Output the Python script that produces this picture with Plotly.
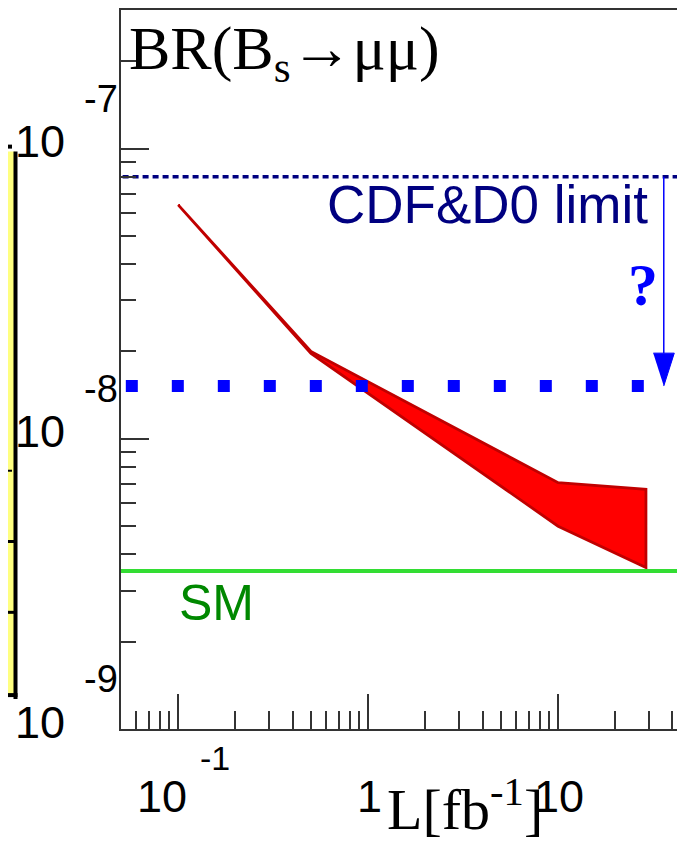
import numpy as np
import plotly.graph_objects as go

# ---------------- data ----------------
lumi = [0.1, 0.5, 10, 29]                      # fb^-1
br_upper = [6.4e-8, 2.0e-8, 7.06e-9, 6.7e-9]
br_lower = [6.4e-8, 1.97e-8, 5.0e-9, 3.6e-9]

cdf_d0_limit = 8.0e-8
expected_limit = 1.52e-8
sm_br = 3.5e-9
arrow_lumi = 36
expected_line_lumi = [0.053, 29]
full_lumi = [0.04, 100]

x_tick_vals = [0.1, 1, 10]
x_tick_base = ["10", "1", "10"]
x_tick_exp = ["-1", "", ""]
y_tick_vals = [1e-7, 1e-8, 1e-9]
y_tick_base = ["10", "10", "10"]
y_tick_exp = ["-7", "-8", "-9"]

# ---------------- layout geometry ----------------
OFF = 8                      # page body margin of the html page
W, H = 685 - OFF, 846 - OFF
ML, MR, MT, MB = 121 - OFF, 0, 0, 117
PW, PH = W - ML - MR, H - MT - MB
x_range = [np.log10(0.05), 1.668]
y_range = [-9.0, -9.0 + PH / 291.0]


def pxx(px):
    """page pixel x -> paper x"""
    return (px - OFF - ML) / PW


def pxy(py):
    """page pixel y -> paper y"""
    return (H - MB - (py - OFF)) / PH


SANS = "Liberation Sans, Arial, sans-serif"
SERIF = "Liberation Serif, Times New Roman, serif"

fig = go.Figure()

# red band
fig.add_trace(go.Scatter(
    x=lumi + lumi[::-1], y=br_upper + br_lower[::-1],
    mode="lines", fill="toself", fillcolor="#ff0000",
    line=dict(color="#c00000", width=2.8), hoverinfo="skip"))

# CDF&D0 limit (navy dotted)
fig.add_trace(go.Scatter(
    x=full_lumi, y=[cdf_d0_limit] * 2, mode="lines",
    line=dict(color="#000080", width=3.5, dash="6px,4px"), hoverinfo="skip"))

# SM line
fig.add_trace(go.Scatter(
    x=full_lumi, y=[sm_br] * 2, mode="lines",
    line=dict(color="#33dd33", width=4), hoverinfo="skip"))

# expected line (big blue squares)
fig.add_trace(go.Scatter(
    x=expected_line_lumi, y=[expected_limit] * 2, mode="lines",
    line=dict(color="#0000ff", width=12, dash="12px,34px"), hoverinfo="skip"))

# arrow
head_len_dec = 33 / 291.0     # decades in y
head_half_dec = 10.5 / 190.0  # decades in x
head_base = expected_limit * 10 ** head_len_dec
fig.add_trace(go.Scatter(
    x=[arrow_lumi, arrow_lumi], y=[cdf_d0_limit, head_base], mode="lines",
    line=dict(color="#0000ff", width=1.5), hoverinfo="skip"))
fig.add_trace(go.Scatter(
    x=[arrow_lumi * 10 ** -head_half_dec, arrow_lumi * 10 ** head_half_dec, arrow_lumi],
    y=[head_base, head_base, expected_limit],
    mode="lines", fill="toself", fillcolor="#0000ff",
    line=dict(color="#0000ff", width=1), hoverinfo="skip"))

annotations = []
# y tick labels (ROOT-style, detached exponent)
for v, b, e in zip(y_tick_vals, y_tick_base, y_tick_exp):
    annotations.append(dict(x=0, xref="paper", y=np.log10(v), yref="y",
                            text=b, showarrow=False, xanchor="right", yanchor="middle",
                            xshift=-54, yshift=7,
                            font=dict(family=SANS, size=45, color="black")))
    annotations.append(dict(x=0, xref="paper", y=np.log10(v), yref="y",
                            text=e, showarrow=False, xanchor="center", yanchor="middle",
                            xshift=-20, yshift=50,
                            font=dict(family=SANS, size=38, color="black")))
# x tick labels
for v, b, e in zip(x_tick_vals, x_tick_base, x_tick_exp):
    annotations.append(dict(x=np.log10(v), xref="x", y=0, yref="paper",
                            text=b, showarrow=False, xanchor="center", yanchor="middle",
                            xshift=-16 if e else 1, yshift=-67,
                            font=dict(family=SANS, size=45, color="black")))
    if e:
        annotations.append(dict(x=np.log10(v), xref="x", y=0, yref="paper",
                                text=e, showarrow=False, xanchor="center", yanchor="middle",
                                xshift=37, yshift=-29,
                                font=dict(family=SANS, size=34, color="black")))

# axis title
annotations.append(dict(x=pxx(385), xref="paper", y=pxy(806), yref="paper",
                        text="L[fb<sup>-1</sup>]", showarrow=False,
                        xanchor="left", yanchor="middle",
                        font=dict(family=SERIF, size=58, color="black")))
# title
annotations.append(dict(x=pxx(127), xref="paper", y=pxy(51), yref="paper",
                        text="BR(B<sub>s</sub>\u2192\u03bc\u03bc)", showarrow=False,
                        xanchor="left", yanchor="middle",
                        font=dict(family=SERIF, size=62, color="black")))
# CDF&D0 limit label
annotations.append(dict(x=pxx(650), xref="paper", y=pxy(203), yref="paper",
                        text="CDF&amp;D0 limit", showarrow=False,
                        xanchor="right", yanchor="middle",
                        font=dict(family=SANS, size=53, color="#000080")))
# question mark
annotations.append(dict(x=pxx(643), xref="paper", y=pxy(284), yref="paper",
                        text="<b>?</b>", showarrow=False,
                        xanchor="center", yanchor="middle",
                        font=dict(family=SERIF, size=60, color="#0000ff")))
# SM label
annotations.append(dict(x=pxx(177), xref="paper", y=pxy(603), yref="paper",
                        text="SM", showarrow=False,
                        xanchor="left", yanchor="middle",
                        font=dict(family=SANS, size=50, color="#008800")))

# left yellow panel fragment (from neighbouring figure)
shapes = [
    dict(type="rect", xref="paper", yref="paper", x0=pxx(-5), x1=pxx(15),
         y0=pxy(697), y1=pxy(150), fillcolor="#ffff80", line=dict(width=0), layer="above"),
    dict(type="line", xref="paper", yref="paper", x0=pxx(15.5), x1=pxx(15.5),
         y0=pxy(699), y1=pxy(150), line=dict(color="black", width=4)),
    dict(type="line", xref="paper", yref="paper", x0=pxx(-5), x1=pxx(17.5),
         y0=pxy(695), y1=pxy(695), line=dict(color="black", width=4)),
    dict(type="line", xref="paper", yref="paper", x0=pxx(-5), x1=pxx(12),
         y0=pxy(145), y1=pxy(145), line=dict(color="black", width=4)),
    dict(type="line", xref="paper", yref="paper", x0=pxx(-5), x1=pxx(12),
         y0=pxy(470), y1=pxy(470), line=dict(color="black", width=2)),
    dict(type="line", xref="paper", yref="paper", x0=pxx(-5), x1=pxx(15),
         y0=pxy(541), y1=pxy(541), line=dict(color="black", width=3)),
    dict(type="line", xref="paper", yref="paper", x0=pxx(-5), x1=pxx(15),
         y0=pxy(612), y1=pxy(612), line=dict(color="black", width=3)),
]

fig.update_layout(
    width=W, height=H,
    margin=dict(l=ML, r=MR, t=MT, b=MB, pad=0),
    paper_bgcolor="white", plot_bgcolor="white",
    showlegend=False,
    annotations=annotations, shapes=shapes,
    xaxis=dict(type="log", range=x_range, showgrid=False, zeroline=False,
               showline=True, linecolor="#333333", linewidth=2, mirror=True,
               ticks="inside", ticklen=35, tickwidth=1.5, tickcolor="#333333",
               tickmode="array", tickvals=x_tick_vals, showticklabels=False,
               minor=dict(ticks="inside", ticklen=18, tickwidth=1.5, tickcolor="#333333",
                          dtick="D1", showgrid=False)),
    yaxis=dict(type="log", range=y_range, showgrid=False, zeroline=False,
               showline=True, linecolor="#333333", linewidth=2,
               ticks="inside", ticklen=28, tickwidth=1.5, tickcolor="#333333",
               tickmode="array", tickvals=y_tick_vals, showticklabels=False,
               minor=dict(ticks="inside", ticklen=15, tickwidth=1.5, tickcolor="#333333",
                          dtick="D1", showgrid=False)),
)

fig.write_html("out.html")
